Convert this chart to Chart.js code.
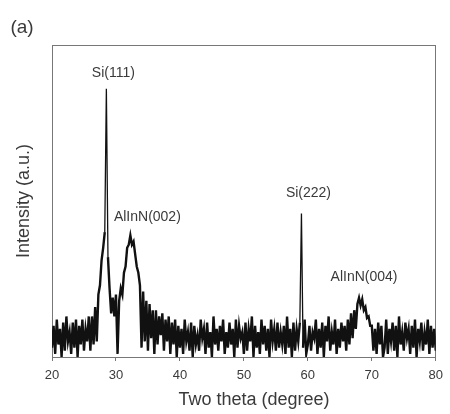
<!DOCTYPE html>
<html>
<head>
<meta charset="utf-8">
<script src="https://cdn.jsdelivr.net/npm/chart.js@4/dist/chart.umd.min.js"></script>
<style>
	body { margin: 0; background: #fff; }
	canvas { display: block; }
</style>
</head>
<body>
<canvas id="xrd-chart" width="450" height="414"></canvas>
<script>
/* scan: 20 to 80 degrees, 0.25 degree step */

var twoThetaStart = 20;
var twoThetaStep = 0.25;

var xTicks = [20, 30, 40, 50, 60, 70, 80];

// counts (a.u.), one row per 2 degrees
var intensity = [
	3, 10, 1, 12, 4, 9, 0, 11,
	2, 13, 5, 8, 1, 11, 3, 12,
	0, 10, 4, 12, 2, 9, 5, 13,
	2, 13, 4, 16, 5, 20, 23, 31,
	35, 40, 86, 32, 22, 14, 19, 13,
	20, 1, 18, 22, 20, 27, 29, 35,
	36, 39, 36, 37, 33, 29, 27, 23,
	3, 21, 5, 18, 2, 17, 6, 15,
	1, 15, 4, 13, 7, 14, 2, 12,
	5, 13, 1, 11, 4, 12, 0, 10,
	3, 9, 1, 12, 5, 8, 2, 11,
	0, 10, 4, 7, 2, 12, 6, 9,
	1, 11, 3, 8, 0, 13, 4, 9,
	2, 10, 5, 12, 1, 8, 3, 11,
	4, 9, 0, 12, 3, 10, 6, 8,
	1, 11, 2, 9, 5, 13, 0, 10,
	3, 8, 1, 12, 4, 10, 2, 9,
	0, 12, 5, 9, 2, 11, 3, 8,
	4, 10, 1, 13, 3, 9, 0, 11,
	2, 9, 5, 11, 46, 3, 12, 1,
	4, 10, 2, 8, 6, 12, 1, 9,
	3, 11, 0, 10, 5, 13, 2, 8,
	4, 12, 1, 9, 3, 11, 5, 10,
	2, 12, 4, 14, 6, 15, 9, 17,
	19, 16.5, 18.5, 15, 16, 12.5, 13, 10,
	10, 2, 9, 1, 11, 4, 10, 0,
	3, 12, 1, 9, 5, 11, 2, 10,
	0, 13, 4, 8, 2, 11, 6, 9,
	1, 10, 3, 12, 0, 9, 5, 11,
	2, 8, 4, 12, 1, 10, 3, 9,
	2
];

var peakNames = ['Si(111)', 'AlInN(002)', 'Si(222)', 'AlInN(004)'];
var peakAngles = [28.5, 32.25, 59.0, 68.0];

var getPoints = function() {
	var points = [];
	for (var i = 0; i < intensity.length; i++) {
		points.push({ x: twoThetaStart + i * twoThetaStep, y: intensity[i] });
	}
	return points;
};

var getIntensityAt = function(angle) {
	var index = Math.round((angle - twoThetaStart) / twoThetaStep);
	return intensity[index];
};

var fontFamily = '"Liberation Sans", Arial, sans-serif';
var textColor = '#3a3a3a';
var frameColor = '#777777';
var frameDash = [1, 2];

// the sharp Si reflections are drawn with a thinner pen than the noisy trace
var getSegmentWidth = function(segment) {
	var span = Math.abs(segment.p1.parsed.y - segment.p0.parsed.y);
	return span > 30 ? 1.3 : 2.4;
};

// peak names above each reflection, panel letter and x title
var peakLabels = {
	id: 'peakLabels',
	afterDatasetsDraw: function(chart, args, options) {
		var ctx = chart.ctx;
		var x = chart.scales.x;
		var y = chart.scales.y;
		ctx.save();
		ctx.fillStyle = textColor;
		ctx.textAlign = 'center';
		ctx.textBaseline = 'middle';
		ctx.font = '14px ' + fontFamily;
		for (var i = 0; i < peakNames.length; i++) {
			var shift = options.shifts[i];
			var px = x.getPixelForValue(peakAngles[i]) + shift[0];
			var py = y.getPixelForValue(getIntensityAt(peakAngles[i])) - shift[1];
			ctx.fillText(peakNames[i], px, py);
		}
		ctx.font = '19px ' + fontFamily;
		ctx.fillText('(a)', 22, 28);
		ctx.font = '18px ' + fontFamily;
		ctx.fillText('Two theta (degree)', 254, 400);
		ctx.restore();
	}
};

// top and right edges of the frame, no ticks
var frameAxis = function(position, size) {
	return {
		type: 'linear',
		position: position,
		min: position == 'top' ? 20 : 0,
		max: position == 'top' ? 80 : 100,
		grid: { display: false },
		ticks: { display: false },
		border: { display: true, color: frameColor, width: 1, dash: frameDash },
		afterFit: function(scale) {
			if (position == 'top') {
				scale.height = size;
			} else {
				scale.width = size;
			}
		}
	};
};

var setChart = function() {
	var context = document.getElementById('xrd-chart').getContext('2d');
	var payload = {
		type: 'line',
		data: {
			datasets: [{
				label: 'XRD',
				data: getPoints(),
				borderColor: '#111111',
				borderWidth: 2.4,
				segment: { borderWidth: getSegmentWidth },
				pointRadius: 0,
				tension: 0,
				fill: false
			}]
		},
		options: {
			responsive: false,
			animation: false,
			layout: { padding: { top: 45, right: 0, left: 0, bottom: 0 } },
			plugins: {
				legend: { display: false },
				tooltip: { enabled: false },
				peakLabels: { shifts: [[7, 16], [17, 18], [7, 20], [5, 21]] }
			},
			scales: {
				x: {
					type: 'linear',
					position: 'bottom',
					min: 20,
					max: 80,
					afterBuildTicks: function(scale) {
						scale.ticks = xTicks.map(function(v) { return { value: v }; });
					},
					ticks: { color: textColor, padding: 7, font: { family: fontFamily, size: 13 } },
					grid: { display: true, drawOnChartArea: false, drawTicks: true, tickLength: 4, color: frameColor },
					border: { display: true, color: frameColor, width: 1, dash: frameDash },
					afterFit: function(scale) { scale.height = 57; }
				},
				y: {
					type: 'linear',
					position: 'left',
					min: 0,
					max: 100,
					grid: { display: false },
					ticks: { display: false },
					border: { display: true, color: frameColor, width: 1, dash: frameDash },
					title: {
						display: true,
						text: 'Intensity (a.u.)',
						color: textColor,
						padding: { top: 13, bottom: 0 },
						font: { family: fontFamily, size: 18 }
					},
					afterFit: function(scale) { scale.width = 52; }
				},
				xTop: frameAxis('top', 0),
				yRight: frameAxis('right', 11)
			}
		},
		plugins: [peakLabels]
	};
	new Chart(context, payload);
};

document.addEventListener('DOMContentLoaded', setChart);
</script>
</body>
</html>
